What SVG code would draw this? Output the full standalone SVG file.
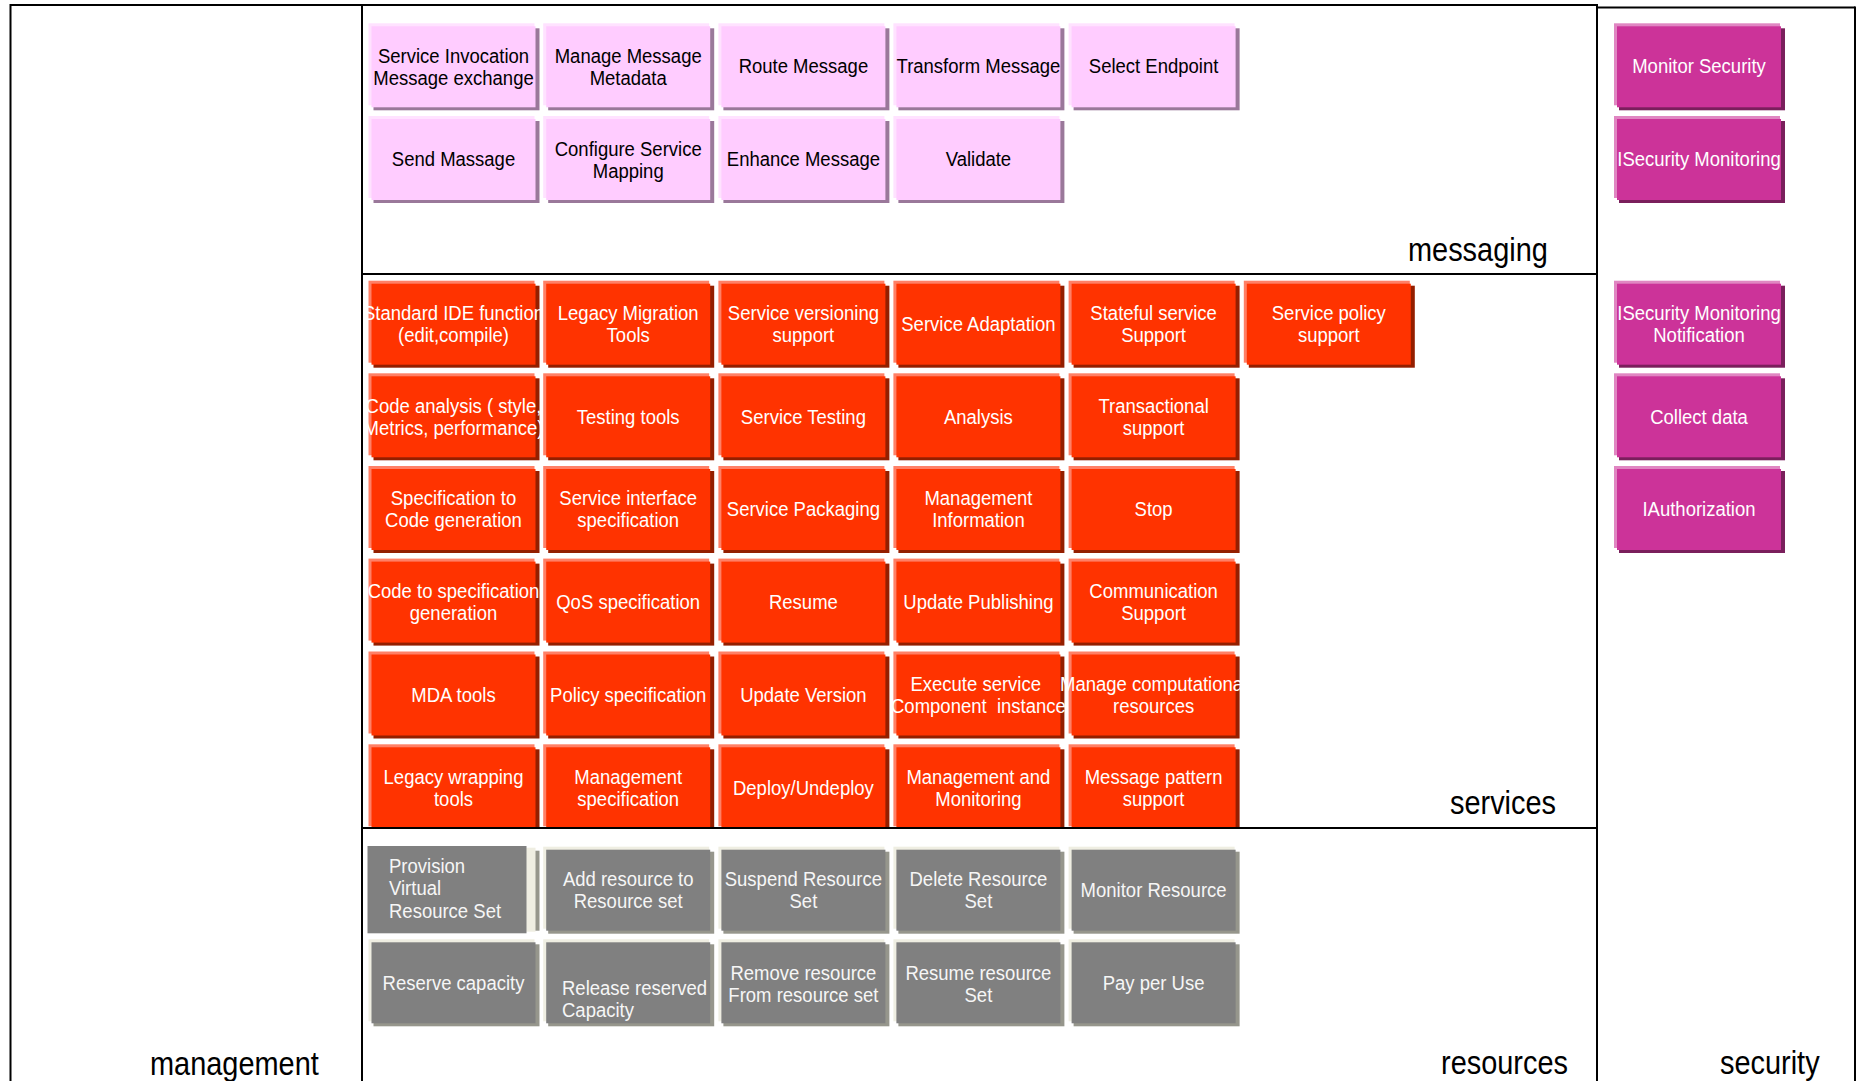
<svg xmlns="http://www.w3.org/2000/svg" xmlns:xlink="http://www.w3.org/1999/xlink" width="1856" height="1081" viewBox="0 0 1856 1081">
<style>
.t{font-family:"Liberation Sans",Arial,Helvetica,sans-serif;font-size:20.8px;text-anchor:middle}
.ts{text-anchor:start}
.tb{fill:#000}
.tw{fill:#ffffff}
.tg{fill:#f6f6f6}
.lbl{font-family:"Liberation Sans",Arial,Helvetica,sans-serif;font-size:32.5px;fill:#000}
.pk-s{fill:#9a789a}.pk-h{fill:#ffe2ff}.pk-m{fill:#ffccff}
.rd-s{fill:#941f00}.rd-h{fill:#ff8066}.rd-m{fill:#ff3300}
.mg-s{fill:#7a1f5c}.mg-h{fill:#e086c2}.mg-m{fill:#cc3399}
.gy-s{fill:#96968c}.gy-h{fill:#efeee2}.gy-m{fill:#808080}
.ln{stroke:#000;stroke-width:2;fill:none}
</style>
<defs>
<g id="bx-pk"><rect class="pk-s" x="5" y="5" width="166" height="82"/><rect class="pk-h" width="166" height="82"/><rect class="pk-m" x="3" y="3" width="164" height="81"/></g>
<g id="bx-rd"><rect class="rd-s" x="5" y="5" width="166" height="82"/><rect class="rd-h" width="166" height="82"/><rect class="rd-m" x="3" y="3" width="164" height="81"/></g>
<g id="bx-mg"><rect class="mg-s" x="5" y="5" width="166" height="82"/><rect class="mg-h" width="166" height="82"/><rect class="mg-m" x="3" y="3" width="164" height="81"/></g>
<g id="bx-gy"><rect class="gy-s" x="5" y="5" width="166" height="82"/><rect class="gy-h" width="166" height="82"/><rect class="gy-m" x="3" y="3" width="164" height="81"/></g>
<clipPath id="clip-services"><rect x="362" y="274" width="1235" height="553"/></clipPath>
</defs>

<g id="frames">
<line class="ln" x1="10.5" y1="5" x2="1597" y2="5"/>
<line class="ln" x1="1597" y1="7.5" x2="1855" y2="7.5"/>
<line class="ln" x1="10.5" y1="4" x2="10.5" y2="1081"/>
<line class="ln" x1="362" y1="4" x2="362" y2="1081"/>
<line class="ln" x1="1597" y1="4" x2="1597" y2="1081"/>
<line class="ln" x1="1855" y1="6.5" x2="1855" y2="1081"/>
<line class="ln" x1="362" y1="274" x2="1597" y2="274"/>
<line class="ln" x1="362" y1="828" x2="1597" y2="828"/>
</g>

<g id="labels">
<text class="lbl" transform="translate(150,1074.5) scale(0.89,1)">management</text>
<text class="lbl" transform="translate(1408,261) scale(0.89,1)">messaging</text>
<text class="lbl" transform="translate(1450,813.5) scale(0.89,1)">services</text>
<text class="lbl" transform="translate(1441,1073.5) scale(0.89,1)">resources</text>
<text class="lbl" transform="translate(1720,1073.5) scale(0.89,1)">security</text>
</g>

<g id="messaging">
<g id="m-service-invocation" transform="translate(368.5,23.3)"><use href="#bx-pk"/><text class="t tb" transform="translate(85,0) scale(0.89,1)"><tspan x="0" y="39.5">Service Invocation</tspan><tspan x="0" y="61.5">Message exchange</tspan></text></g>
<g id="m-manage-metadata" transform="translate(543.2,23.3)"><use href="#bx-pk"/><text class="t tb" transform="translate(85,0) scale(0.89,1)"><tspan x="0" y="39.5">Manage Message</tspan><tspan x="0" y="61.5">Metadata</tspan></text></g>
<g id="m-route" transform="translate(718.4,23.3)"><use href="#bx-pk"/><text class="t tb" transform="translate(85,0) scale(0.89,1)"><tspan x="0" y="50">Route Message</tspan></text></g>
<g id="m-transform" transform="translate(893.4,23.3)"><use href="#bx-pk"/><text class="t tb" transform="translate(85,0) scale(0.89,1)"><tspan x="0" y="50">Transform Message</tspan></text></g>
<g id="m-select-endpoint" transform="translate(1068.6,23.3)"><use href="#bx-pk"/><text class="t tb" transform="translate(85,0) scale(0.89,1)"><tspan x="0" y="50">Select Endpoint</tspan></text></g>
<g id="m-send" transform="translate(368.5,116)"><use href="#bx-pk"/><text class="t tb" transform="translate(85,0) scale(0.89,1)"><tspan x="0" y="50.5">Send Massage</tspan></text></g>
<g id="m-configure-mapping" transform="translate(543.2,116)"><use href="#bx-pk"/><text class="t tb" transform="translate(85,0) scale(0.89,1)"><tspan x="0" y="40">Configure Service</tspan><tspan x="0" y="62">Mapping</tspan></text></g>
<g id="m-enhance" transform="translate(718.4,116)"><use href="#bx-pk"/><text class="t tb" transform="translate(85,0) scale(0.89,1)"><tspan x="0" y="50.5">Enhance Message</tspan></text></g>
<g id="m-validate" transform="translate(893.4,116)"><use href="#bx-pk"/><text class="t tb" transform="translate(85,0) scale(0.89,1)"><tspan x="0" y="50.5">Validate</tspan></text></g>
</g>

<g id="services" clip-path="url(#clip-services)">
<g id="s-ide" transform="translate(368.5,280.7)"><use href="#bx-rd"/><text class="t tw" transform="translate(85,0) scale(0.89,1)"><tspan x="0" y="39.5">Standard IDE function</tspan><tspan x="0" y="61.5">(edit,compile)</tspan></text></g>
<g id="s-legacy-migration" transform="translate(543.2,280.7)"><use href="#bx-rd"/><text class="t tw" transform="translate(85,0) scale(0.89,1)"><tspan x="0" y="39.5">Legacy Migration</tspan><tspan x="0" y="61.5">Tools</tspan></text></g>
<g id="s-versioning" transform="translate(718.4,280.7)"><use href="#bx-rd"/><text class="t tw" transform="translate(85,0) scale(0.89,1)"><tspan x="0" y="39.5">Service versioning</tspan><tspan x="0" y="61.5">support</tspan></text></g>
<g id="s-adaptation" transform="translate(893.4,280.7)"><use href="#bx-rd"/><text class="t tw" transform="translate(85,0) scale(0.89,1)"><tspan x="0" y="50">Service Adaptation</tspan></text></g>
<g id="s-stateful" transform="translate(1068.6,280.7)"><use href="#bx-rd"/><text class="t tw" transform="translate(85,0) scale(0.89,1)"><tspan x="0" y="39.5">Stateful service</tspan><tspan x="0" y="61.5">Support</tspan></text></g>
<g id="s-policy-support" transform="translate(1243.8,280.7)"><use href="#bx-rd"/><text class="t tw" transform="translate(85,0) scale(0.89,1)"><tspan x="0" y="39.5">Service policy</tspan><tspan x="0" y="61.5">support</tspan></text></g>

<g id="s-code-analysis" transform="translate(368.5,373.3)"><use href="#bx-rd"/><text class="t tw" transform="translate(85,0) scale(0.89,1)"><tspan x="0" y="39.5">Code analysis ( style,</tspan><tspan x="0" y="61.5">Metrics, performance)</tspan></text></g>
<g id="s-testing-tools" transform="translate(543.2,373.3)"><use href="#bx-rd"/><text class="t tw" transform="translate(85,0) scale(0.89,1)"><tspan x="0" y="50.5">Testing tools</tspan></text></g>
<g id="s-service-testing" transform="translate(718.4,373.3)"><use href="#bx-rd"/><text class="t tw" transform="translate(85,0) scale(0.89,1)"><tspan x="0" y="50.5">Service Testing</tspan></text></g>
<g id="s-analysis" transform="translate(893.4,373.3)"><use href="#bx-rd"/><text class="t tw" transform="translate(85,0) scale(0.89,1)"><tspan x="0" y="50.5">Analysis</tspan></text></g>
<g id="s-transactional" transform="translate(1068.6,373.3)"><use href="#bx-rd"/><text class="t tw" transform="translate(85,0) scale(0.89,1)"><tspan x="0" y="39.5">Transactional</tspan><tspan x="0" y="61.5">support</tspan></text></g>

<g id="s-spec-to-code" transform="translate(368.5,466)"><use href="#bx-rd"/><text class="t tw" transform="translate(85,0) scale(0.89,1)"><tspan x="0" y="39.5">Specification to</tspan><tspan x="0" y="61.5">Code generation</tspan></text></g>
<g id="s-interface-spec" transform="translate(543.2,466)"><use href="#bx-rd"/><text class="t tw" transform="translate(85,0) scale(0.89,1)"><tspan x="0" y="39.5">Service interface</tspan><tspan x="0" y="61.5">specification</tspan></text></g>
<g id="s-packaging" transform="translate(718.4,466)"><use href="#bx-rd"/><text class="t tw" transform="translate(85,0) scale(0.89,1)"><tspan x="0" y="50.5">Service Packaging</tspan></text></g>
<g id="s-mgmt-info" transform="translate(893.4,466)"><use href="#bx-rd"/><text class="t tw" transform="translate(85,0) scale(0.89,1)"><tspan x="0" y="39.5">Management</tspan><tspan x="0" y="61.5">Information</tspan></text></g>
<g id="s-stop" transform="translate(1068.6,466)"><use href="#bx-rd"/><text class="t tw" transform="translate(85,0) scale(0.89,1)"><tspan x="0" y="50.5">Stop</tspan></text></g>

<g id="s-code-to-spec" transform="translate(368.5,558.6)"><use href="#bx-rd"/><text class="t tw" transform="translate(85,0) scale(0.89,1)"><tspan x="0" y="39.5">Code to specification</tspan><tspan x="0" y="61.5">generation</tspan></text></g>
<g id="s-qos-spec" transform="translate(543.2,558.6)"><use href="#bx-rd"/><text class="t tw" transform="translate(85,0) scale(0.89,1)"><tspan x="0" y="50.5">QoS specification</tspan></text></g>
<g id="s-resume" transform="translate(718.4,558.6)"><use href="#bx-rd"/><text class="t tw" transform="translate(85,0) scale(0.89,1)"><tspan x="0" y="50.5">Resume</tspan></text></g>
<g id="s-update-publishing" transform="translate(893.4,558.6)"><use href="#bx-rd"/><text class="t tw" transform="translate(85,0) scale(0.89,1)"><tspan x="0" y="50.5">Update Publishing</tspan></text></g>
<g id="s-communication" transform="translate(1068.6,558.6)"><use href="#bx-rd"/><text class="t tw" transform="translate(85,0) scale(0.89,1)"><tspan x="0" y="39.5">Communication</tspan><tspan x="0" y="61.5">Support</tspan></text></g>

<g id="s-mda" transform="translate(368.5,651.5)"><use href="#bx-rd"/><text class="t tw" transform="translate(85,0) scale(0.89,1)"><tspan x="0" y="50.5">MDA tools</tspan></text></g>
<g id="s-policy-spec" transform="translate(543.2,651.5)"><use href="#bx-rd"/><text class="t tw" transform="translate(85,0) scale(0.89,1)"><tspan x="0" y="50.5">Policy specification</tspan></text></g>
<g id="s-update-version" transform="translate(718.4,651.5)"><use href="#bx-rd"/><text class="t tw" transform="translate(85,0) scale(0.89,1)"><tspan x="0" y="50.5">Update Version</tspan></text></g>
<g id="s-execute" transform="translate(893.4,651.5)"><use href="#bx-rd"/><text class="t tw" xml:space="preserve" style="white-space:pre" transform="translate(85,0) scale(0.89,1)"><tspan x="-3" y="39.5">Execute service</tspan><tspan x="0" y="61.5">Component  instance</tspan></text></g>
<g id="s-computational" transform="translate(1068.6,651.5)"><use href="#bx-rd"/><text class="t tw" transform="translate(85,0) scale(0.89,1)"><tspan x="0" y="39.5">Manage computational</tspan><tspan x="0" y="61.5">resources</tspan></text></g>

<g id="s-legacy-wrapping" transform="translate(368.5,744.3)"><use href="#bx-rd"/><text class="t tw" transform="translate(85,0) scale(0.89,1)"><tspan x="0" y="39.5">Legacy wrapping</tspan><tspan x="0" y="61.5">tools</tspan></text></g>
<g id="s-mgmt-spec" transform="translate(543.2,744.3)"><use href="#bx-rd"/><text class="t tw" transform="translate(85,0) scale(0.89,1)"><tspan x="0" y="39.5">Management</tspan><tspan x="0" y="61.5">specification</tspan></text></g>
<g id="s-deploy" transform="translate(718.4,744.3)"><use href="#bx-rd"/><text class="t tw" transform="translate(85,0) scale(0.89,1)"><tspan x="0" y="50.5">Deploy/Undeploy</tspan></text></g>
<g id="s-mgmt-monitoring" transform="translate(893.4,744.3)"><use href="#bx-rd"/><text class="t tw" transform="translate(85,0) scale(0.89,1)"><tspan x="0" y="39.5">Management and</tspan><tspan x="0" y="61.5">Monitoring</tspan></text></g>
<g id="s-message-pattern" transform="translate(1068.6,744.3)"><use href="#bx-rd"/><text class="t tw" transform="translate(85,0) scale(0.89,1)"><tspan x="0" y="39.5">Message pattern</tspan><tspan x="0" y="61.5">support</tspan></text></g>
</g>

<g id="resources">
<g id="r-provision" transform="translate(368.5,846.7)"><rect class="gy-s" x="4" y="4" width="167" height="80"/><rect class="gy-h" x="1" y="1" width="166" height="84"/><rect class="gy-m" x="-1" y="-0.7" width="159" height="87.3"/><text class="t ts tg" transform="translate(20.5,0) scale(0.89,1)"><tspan x="0" y="26.3">Provision</tspan><tspan x="0" y="48.6">Virtual</tspan><tspan x="0" y="70.9">Resource Set</tspan></text></g>
<g id="r-add" transform="translate(543.2,846.7)"><use href="#bx-gy"/><text class="t tg" transform="translate(85,0) scale(0.89,1)"><tspan x="0" y="39.5">Add resource to</tspan><tspan x="0" y="61.5">Resource set</tspan></text></g>
<g id="r-suspend" transform="translate(718.4,846.7)"><use href="#bx-gy"/><text class="t tg" transform="translate(85,0) scale(0.89,1)"><tspan x="0" y="39.5">Suspend Resource</tspan><tspan x="0" y="61.5">Set</tspan></text></g>
<g id="r-delete" transform="translate(893.4,846.7)"><use href="#bx-gy"/><text class="t tg" transform="translate(85,0) scale(0.89,1)"><tspan x="0" y="39.5">Delete Resource</tspan><tspan x="0" y="61.5">Set</tspan></text></g>
<g id="r-monitor" transform="translate(1068.6,846.7)"><use href="#bx-gy"/><text class="t tg" transform="translate(85,0) scale(0.89,1)"><tspan x="0" y="50">Monitor Resource</tspan></text></g>
<g id="r-reserve" transform="translate(368.5,939.3)"><use href="#bx-gy"/><text class="t tg" transform="translate(85,0) scale(0.89,1)"><tspan x="0" y="50.5">Reserve capacity</tspan></text></g>
<g id="r-release" transform="translate(543.2,939.3)"><use href="#bx-gy"/><text class="t ts tg" transform="translate(18.8,0) scale(0.89,1)"><tspan x="0" y="55.5">Release reserved</tspan><tspan x="0" y="77.3">Capacity</tspan></text></g>
<g id="r-remove" transform="translate(718.4,939.3)"><use href="#bx-gy"/><text class="t tg" transform="translate(85,0) scale(0.89,1)"><tspan x="0" y="40.5">Remove resource</tspan><tspan x="0" y="62.5">From resource set</tspan></text></g>
<g id="r-resume" transform="translate(893.4,939.3)"><use href="#bx-gy"/><text class="t tg" transform="translate(85,0) scale(0.89,1)"><tspan x="0" y="40.5">Resume resource</tspan><tspan x="0" y="62.5">Set</tspan></text></g>
<g id="r-pay" transform="translate(1068.6,939.3)"><use href="#bx-gy"/><text class="t tg" transform="translate(85,0) scale(0.89,1)"><tspan x="0" y="51">Pay per Use</tspan></text></g>
</g>

<g id="security">
<g id="x-monitor-security" transform="translate(1614,23.3)"><use href="#bx-mg"/><text class="t tw" transform="translate(85,0) scale(0.89,1)"><tspan x="0" y="50">Monitor Security</tspan></text></g>
<g id="x-isecurity-monitoring" transform="translate(1614,116)"><use href="#bx-mg"/><text class="t tw" transform="translate(85,0) scale(0.89,1)"><tspan x="0" y="50.5">ISecurity Monitoring</tspan></text></g>
<g id="x-isecurity-notification" transform="translate(1614,280.7)"><use href="#bx-mg"/><text class="t tw" transform="translate(85,0) scale(0.89,1)"><tspan x="0" y="39.5">ISecurity Monitoring</tspan><tspan x="0" y="61.5">Notification</tspan></text></g>
<g id="x-collect-data" transform="translate(1614,373.3)"><use href="#bx-mg"/><text class="t tw" transform="translate(85,0) scale(0.89,1)"><tspan x="0" y="50.5">Collect data</tspan></text></g>
<g id="x-iauthorization" transform="translate(1614,466)"><use href="#bx-mg"/><text class="t tw" transform="translate(85,0) scale(0.89,1)"><tspan x="0" y="50.5">IAuthorization</tspan></text></g>
</g>

<g id="connectors"></g>
</svg>
